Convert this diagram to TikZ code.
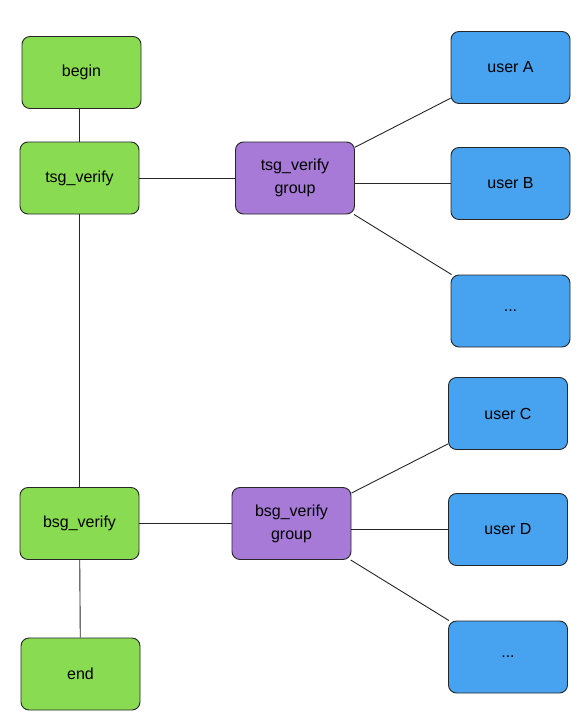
\documentclass[tikz,border=0pt]{standalone}
\usepackage{fontspec}
\setmainfont{Liberation Sans}
\definecolor{gr}{HTML}{89DC51}
\definecolor{pu}{HTML}{A67AD6}
\definecolor{bl}{HTML}{47A2EF}
\begin{document}
\begin{tikzpicture}[x=1pt,y=-1pt,
  box/.style={draw=black!85,line width=0.9pt,rounded corners=8pt,minimum width=119pt,minimum height=72pt,inner sep=0pt,align=center,font=\fontsize{16}{23}\selectfont},
  gbox/.style={box,fill=gr},
  pbox/.style={box,fill=pu},
  bbox/.style={box,fill=bl},
  ln/.style={line width=0.9pt,black!85}]
\useasboundingbox (0,0) rectangle (583,728);
\node[gbox] (begin) at (81.5,72.5) {begin};
\node[gbox] (tsg) at (79.5,178) {tsg\_verify};
\node[gbox] (bsg) at (79.5,523.5) {bsg\_verify};
\node[gbox] (end) at (80.5,674) {end};
\node[pbox] (tg) at (295,178) {tsg\_verify\\group};
\node[pbox] (bg) at (291.5,523.5) {bsg\_verify\\group};
\node[bbox] (ua) at (510.5,67.5) {user A};
\node[bbox] (ub) at (510.5,183.5) {user B};
\node[bbox] (u1) at (510.5,311) {...};
\node[bbox] (uc) at (508,413.5) {user C};
\node[bbox] (ud) at (508,529.5) {user D};
\node[bbox] (u2) at (508,657) {...};
\draw[ln] (begin.south -| tsg.north) -- (tsg.north);
\draw[ln] (tsg) -- (tg);
\draw[ln] (tsg) -- (bsg);
\draw[ln] (bsg) -- (end);
\draw[ln] (bsg) -- (bg);
\draw[ln] (tg) -- (ua);
\draw[ln] (tg.east |- ub) -- (ub);
\draw[ln] (tg) -- (u1);
\draw[ln] (bg) -- (uc);
\draw[ln] (bg.east |- ud) -- (ud);
\draw[ln] (bg) -- (u2);
\end{tikzpicture}
\end{document}
